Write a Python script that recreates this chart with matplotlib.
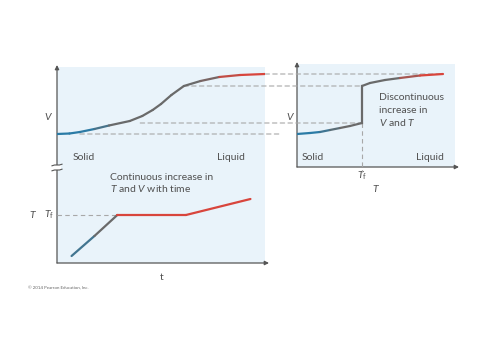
import numpy as np
import matplotlib
matplotlib.use("Agg")
import matplotlib.pyplot as plt
from matplotlib.collections import LineCollection
from matplotlib.colors import LinearSegmentedColormap
from matplotlib.patches import ConnectionPatch, Rectangle

plt.rcParams['font.family'] = ['Lato', 'DejaVu Sans']
plt.rcParams['mathtext.fontset'] = 'custom'
plt.rcParams['mathtext.rm'] = 'Lato'
plt.rcParams['mathtext.it'] = 'Lato:italic'
plt.rcParams['mathtext.bf'] = 'Lato:bold'

# ---------------- data ----------------
# Left top: volume V vs time t
t_vt = [0, 0.6, 1.1, 1.8, 2.5, 3.5, 4.1, 4.6, 5.0, 5.5, 6.1, 6.9, 7.8, 8.8, 10.0]
V_vt = [4.1, 4.15, 4.3, 4.6, 4.95, 5.4, 5.9, 6.5, 7.1, 8.0, 8.9, 9.4, 9.8, 10.0, 10.1]
# Left bottom: temperature T vs time t
t_Tt = [0.7, 1.8, 2.9, 6.2, 9.3]
T_Tt = [0.7, 2.7, 4.8, 4.8, 6.4]
T_f_left = 4.8
# Right: V vs T (solid branch, liquid branch)
T_sol = [0, 0.65, 1.15, 1.65, 2.15, 2.65, 3.25]
V_sol = [4.1, 4.2, 4.3, 4.5, 4.7, 4.9, 5.2]
T_liq = [3.25, 3.65, 4.4, 5.15, 6.15, 7.3]
V_liq = [8.9, 9.2, 9.5, 9.7, 9.95, 10.1]
T_f_right = 3.25
V_levels = [10.1, 8.9, 5.2, 4.1]

W, H = 480, 360
fig = plt.figure(figsize=(4.8, 3.6), dpi=100)
fig.patch.set_facecolor('white')

def box(x0, y0, x1, y1):
    return [x0 / W, 1 - y1 / H, (x1 - x0) / W, (y1 - y0) / H]

BG = '#e9f3fa'
TXT = '#505050'
AX = '#555555'
DASH = '#a8a8a8'
BLUE = '#2a7ba6'
GRAY = '#6a6a6a'
RED = '#d8453c'
cmap = LinearSegmentedColormap.from_list(
    'sl', [(0, BLUE), (0.14, BLUE), (0.3, GRAY), (0.72, GRAY), (0.86, RED), (1, RED)])

# overlay in pixel coords for backgrounds / axes arrows
ov = fig.add_axes([0, 0, 1, 1], zorder=0)
ov.set_xlim(0, W); ov.set_ylim(H, 0); ov.axis('off')
ov.add_patch(Rectangle((57, 67), 208, 196, facecolor=BG, edgecolor='none'))
ov.add_patch(Rectangle((297, 64), 158, 103, facecolor=BG, edgecolor='none'))

axA = fig.add_axes(box(57, 67, 265, 168), zorder=2)
axB = fig.add_axes(box(57, 168, 265, 263), zorder=2)
axC = fig.add_axes(box(297, 64, 455, 167), zorder=2)
for a in (axA, axB, axC):
    a.set_facecolor('none')
    a.axis('off')
axA.set_xlim(0, 10); axA.set_ylim(0.7, 10.8)
axB.set_xlim(0, 10); axB.set_ylim(0, 9.5)
axC.set_xlim(0, 7.9); axC.set_ylim(0.8, 11.1)

def grad_line(ax, x, y, c0, c1, lw=1.6, pos=None):
    x = np.asarray(x, float); y = np.asarray(y, float)
    pts = np.column_stack([x, y]).reshape(-1, 1, 2)
    segs = np.concatenate([pts[:-1], pts[1:]], axis=1)
    if pos is None:
        xm = 0.5 * (x[:-1] + x[1:])
        pos = c0 + (xm - x[0]) / (x[-1] - x[0]) * (c1 - c0)
    lc = LineCollection(segs, colors=cmap(np.asarray(pos)), linewidths=lw,
                        capstyle='round', joinstyle='round', zorder=3)
    ax.add_collection(lc)

grad_line(axA, t_vt, V_vt, 0.0, 1.0)
grad_line(axB, t_Tt, T_Tt, 0, 1, pos=[0.2, 0.5, 0.95, 1.0])
grad_line(axC, T_sol, V_sol, 0.0, 0.45)
axC.plot([T_f_right, T_f_right], [V_sol[-1], V_liq[0]], color=GRAY, lw=1.6, zorder=3)
grad_line(axC, T_liq, V_liq, 0.5, 1.0)

# dashed connectors
dkw = dict(color=DASH, lw=0.8, linestyle=(0, (4, 3)), zorder=1)
starts = [t_vt[-1], 6.1, 4.0, 1.1]
ends = [T_liq[-1], T_f_right, T_f_right, -0.85]
for v, ts, te in zip(V_levels, starts, ends):
    con = ConnectionPatch(xyA=(ts, v), coordsA=axA.transData,
                          xyB=(te, v), coordsB=axC.transData, **dkw)
    fig.add_artist(con)
axC.plot([T_f_right, T_f_right], [V_sol[-1], 0.3], clip_on=False, **dkw)
axB.plot([0, t_Tt[2]], [T_f_left, T_f_left], **dkw)

# axes with arrows (pixel overlay)
akw = dict(arrowprops=dict(arrowstyle='-|>', color=AX, lw=0.9,
                           mutation_scale=6, shrinkA=0, shrinkB=0))
ov.annotate('', xy=(57, 65), xytext=(57, 263), **akw)
ov.annotate('', xy=(269, 263), xytext=(57, 263), **akw)
ov.annotate('', xy=(297, 62), xytext=(297, 167), **akw)
ov.annotate('', xy=(459, 167), xytext=(297, 167), **akw)
# axis break mark
ov.add_patch(Rectangle((53, 165), 8, 5, facecolor='white', edgecolor='none', zorder=4))
for yb in (165, 170):
    ov.plot([52, 54.5, 59.5, 62], [yb + 0.8, yb, yb, yb - 0.8], color=AX, lw=0.8, zorder=5)

fs = 7.5
tk = dict(color=TXT, fontsize=fs, va='center')
ov.text(48, 117, 'V', style='italic', ha='center', **tk)
ov.text(73, 157, 'Solid', ha='left', **tk)
ov.text(245, 157, 'Liquid', ha='right', **tk)
ov.text(110, 177, 'Continuous increase in', ha='left', **tk)
ov.text(110, 189, '$\\mathit{T}$ and $\\mathit{V}$ with time', ha='left', **tk)
ov.text(32, 215, 'T', style='italic', ha='center', **tk)
ov.text(49, 215, '$\\mathit{T}_\\mathrm{f}$', ha='center', **tk)
ov.text(162, 277, 't', ha='center', **tk)
ov.text(290, 118, 'V', style='italic', ha='center', **tk)
ov.text(302, 157, 'Solid', ha='left', **tk)
ov.text(444, 157, 'Liquid', ha='right', **tk)
ov.text(379, 98, 'Discontinuous', ha='left', **tk)
ov.text(379, 110.5, 'increase in', ha='left', **tk)
ov.text(379, 123, '$\\mathit{V}$ and $\\mathit{T}$', ha='left', **tk)
ov.text(362, 176, '$\\mathit{T}_\\mathrm{f}$', ha='center', **tk)
ov.text(375, 190, 'T', style='italic', ha='center', **tk)
ov.text(28, 288, '\u00a9 2014 Pearson Education, Inc.', ha='left', va='center',
        color='#666666', fontsize=3.2)

fig.savefig('out.png', dpi=100, facecolor='white')
